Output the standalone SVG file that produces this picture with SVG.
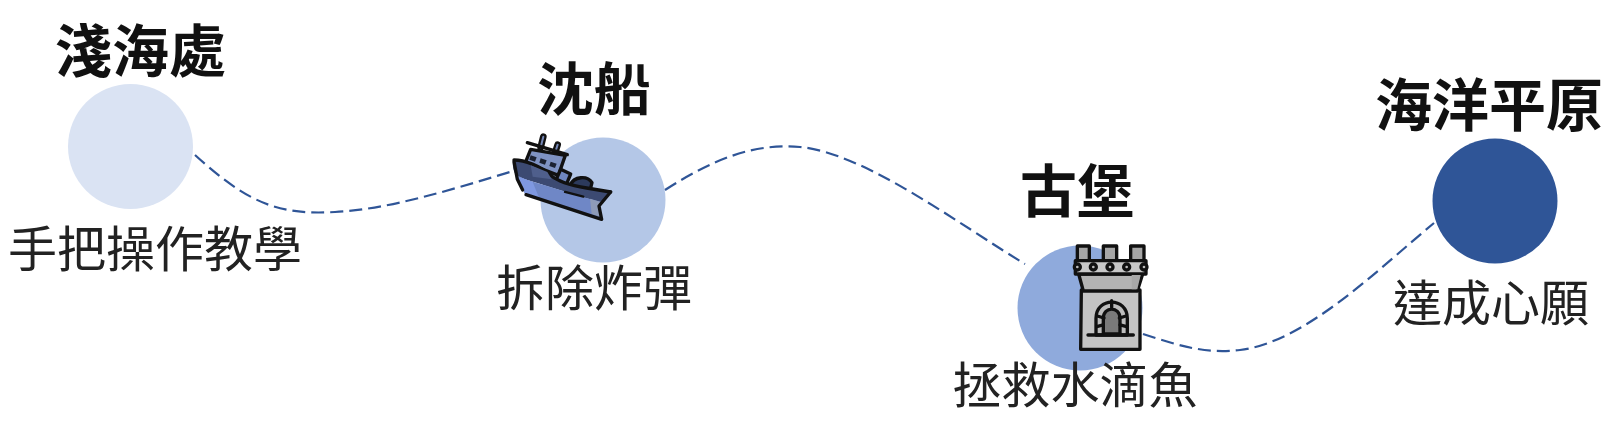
<svg xmlns="http://www.w3.org/2000/svg" width="1610" height="445" viewBox="0 0 1610 445">
<style>
text{font-family:"Noto Sans CJK TC","Noto Sans CJK SC",sans-serif;text-anchor:middle;fill:#111}
.t{font-size:57px;font-weight:700}
.l{font-size:49px;font-weight:400;fill:#222}
.c{fill:none;stroke:#2f5597;stroke-width:2.2;stroke-dasharray:13 6}
.o{stroke:#111;stroke-width:10;stroke-linejoin:round;stroke-linecap:round}
</style>
<rect width="1610" height="445" fill="#fff"/>
<g id="node1"><circle cx="130.500" cy="146.500" r="62.500" fill="#dae3f3"/><text class="t" x="140.500" y="72">淺海處</text><text class="l" x="155" y="267">手把操作教學</text></g>
<g id="node2"><circle cx="603" cy="200" r="62.500" fill="#b4c7e7"/><text class="t" x="594" y="110">沈船</text><text class="l" x="594" y="306">拆除炸彈</text></g>
<g id="node3"><circle cx="1080" cy="308" r="62.500" fill="#8faadc"/><text class="t" x="1077" y="212">古堡</text><text class="l" x="1075" y="403">拯救水滴魚</text></g>
<g id="node4"><circle cx="1495" cy="201" r="62.500" fill="#2f5597"/><text class="t" x="1489" y="126">海洋平原</text><text class="l" x="1491" y="321">達成心願</text></g>
<g id="connectors">
<path class="c" d="M195 155C250 205 280 215 335 212C390 209 450 190 510 172"/>
<path class="c" d="M665 190C715 158 755 143 800 147C865 153 960 225 1025 264"/>
<path class="c" d="M1143 334C1180 346 1205 354 1240 350C1305 342 1375 272 1434 223"/>
</g>
<g id="ship" transform="translate(490 110) scale(.3333)">
<path d="M160 80L152 112" stroke="#111" stroke-width="20" stroke-linecap="round"/>
<path d="M160 80L152 112" stroke="#7486b5" stroke-width="6" stroke-linecap="round"/>
<path d="M203 104L196 126" stroke="#111" stroke-width="20" stroke-linecap="round"/>
<path d="M203 104L196 126" stroke="#7486b5" stroke-width="6" stroke-linecap="round"/>
<path class="o" fill="#7f93c4" d="M122 118L106 158L205 196L226 136Z"/>
<path class="o" fill="none" d="M112 98L232 134"/>
<path fill="#1c2233" d="M122 136l18 6-5 13-17-6zM152 145l18 6-5 13-17-6zM182 155l18 6-5 13-17-6z"/>
<path class="o" fill="#6f87c0" d="M212 178L242 192L228 226L198 210Z"/>
<path class="o" fill="#2c3a5c" d="M240 226C252 198 292 196 306 218L300 242Z"/>
<path d="M70 148C105 148 150 168 182 196C205 216 240 226 290 234L365 245L335 278L280 262L105 208L80 198C70 185 66 165 70 148Z" fill="#3c4a72"/>
<path d="M72 150C105 150 150 168 182 196C205 216 240 226 290 234L362 246" fill="none" stroke="#111" stroke-width="10" stroke-linecap="round"/>
<path fill="#6f87c6" d="M78 194L105 252L335 326L325 288L335 276L280 262L105 208Z"/>
<path d="M80 198L128 216L150 270L106 252Z" fill="#7f98e0"/>
<path d="M300 266L332 276L325 290L335 322L305 312Z" fill="#8e9bb8"/>
<path d="M122 166L172 186L185 208L128 200Z" fill="#4f5f8c"/>
<path d="M72 155L82 208L98 240" fill="none" stroke="#111" stroke-width="10" stroke-linecap="round"/>
<path d="M108 254L335 328L327 288L362 246" fill="none" stroke="#111" stroke-width="10" stroke-linejoin="round" stroke-linecap="round"/>
<path d="M225 246L280 260" fill="none" stroke="#111" stroke-width="7" stroke-linecap="round"/>
</g>
<g id="tower" transform="translate(1050 230) scale(.3333)">
<path class="o" fill="#c4c4c4" d="M94 180H270V358H92Z"/>
<path class="o" fill="#b3b3b3" d="M86 132H278L262 183H100Z"/>
<path class="o" fill="#a6a6a6" d="M82 48H118V92H82ZM160 48H200V92H160ZM242 48H282V92H242Z"/>
<path class="o" fill="#c8c8c8" d="M76 92H288V132H76Z"/>
<path fill="#a8a8a8" d="M245 135H272L262 178H245Z"/>
<path class="o" fill="#bdbdbd" d="M138 315V265C138 200 232 200 232 265V315Z"/>
<path class="o" fill="#7a7a7a" d="M160 312V265C160 228 210 228 210 265V312Z"/>
<path class="o" fill="none" d="M114 315H250M142 258L162 264M228 258L208 264M185 212V232M140 290L160 285M230 290L210 285"/>
<g fill="#bbb" stroke="#111" stroke-width="10"><circle cx="82" cy="111" r="9"/><circle cx="130" cy="111" r="9"/><circle cx="180" cy="111" r="9"/><circle cx="230" cy="111" r="9"/><circle cx="282" cy="111" r="9"/></g>
</g>
</svg>
